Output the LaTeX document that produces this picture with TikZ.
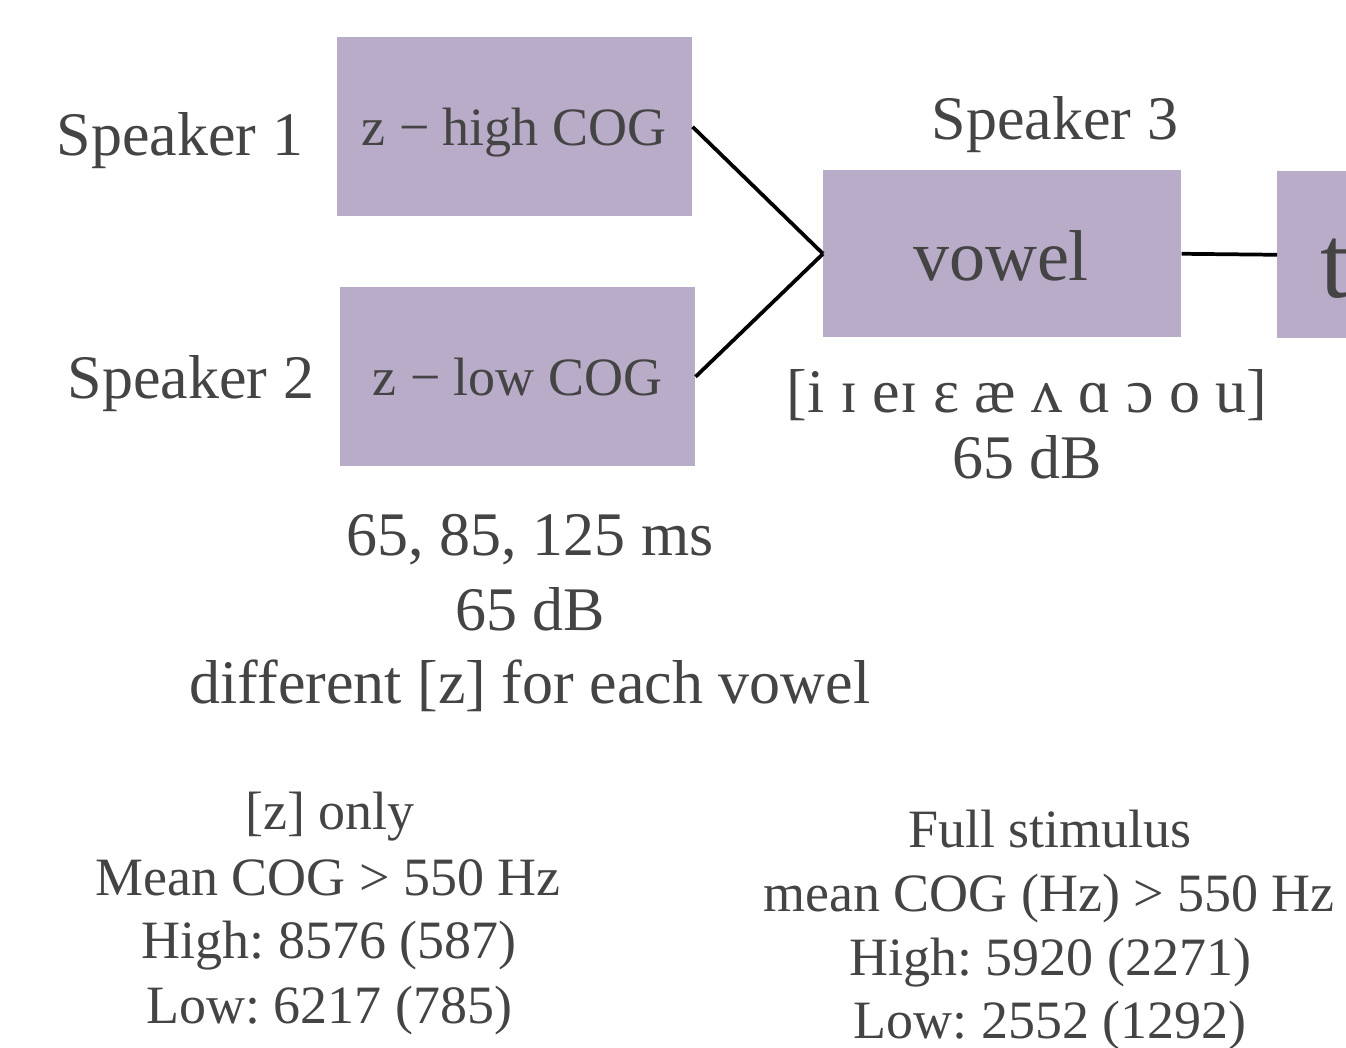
\documentclass[tikz,border=0pt]{standalone}
\usepackage{fontspec}
\setmainfont{Liberation Serif}
\definecolor{boxfill}{HTML}{B9ACC8}
\definecolor{txt}{HTML}{444444}
\frenchspacing
\begin{document}
\begin{tikzpicture}[x=0.75pt,y=-0.75pt,
  lbl/.style={text=txt,inner sep=0pt,anchor=base},
  big/.style={font=\fontsize{46.5pt}{50pt}\selectfont},
  small/.style={font=\fontsize{40.5pt}{44pt}\selectfont},
  boxtxt/.style={font=\fontsize{40.5pt}{44pt}\selectfont},
  pbox/.style={fill=boxfill,draw=none,inner sep=0pt,anchor=north west},
  conn/.style={line width=2.8pt,black}]
\useasboundingbox (0,0) rectangle (1346,1047);
\clip (0,0) rectangle (1346,1047);
% boxes
\node[pbox,minimum width=266.25pt,minimum height=134.25pt] (b1) at (337,37) {};
\node[pbox,minimum width=266.25pt,minimum height=134.25pt] (b2) at (340,287) {};
\node[pbox,minimum width=268.5pt,minimum height=125.25pt] (vow) at (823,170) {};
\node[pbox,minimum width=75pt,minimum height=125.25pt] (tb) at (1277,171) {};
% box texts
\node[lbl,boxtxt] (b1t) at (514,145) {z − high COG};
\node[lbl,boxtxt] (b2t) at (517.5,395) {z − low COG};
\node[lbl,font=\fontsize{54pt}{58pt}\selectfont] (vowt) at (1001,280) {vowel};
\node[lbl,anchor=base west,font=\fontsize{78pt}{80pt}\selectfont] (tt) at (1320,297) {t};
% connectors
\draw[conn] (b1.east) -- (vow.west);
\draw[conn] (b2.east) -- (vow.west);
\draw[conn] (vow.east) -- (tb.west);
% speaker labels
\node[lbl,big] (s1) at (180,155) {Speaker 1};
\node[lbl,big] (s2) at (191,398) {Speaker 2};
\node[lbl,big] (s3) at (1055,139) {Speaker 3};
% vowel info
\node[lbl,big] (ipa) at (1027,412) {[i ɪ eɪ ɛ æ ʌ ɑ ɔ o u]};
\node[lbl,big] (vdb) at (1027,478) {65 dB};
% z info
\node[lbl,big] (zms) at (530,555) {65, 85, 125 ms};
\node[lbl,big] (zdb) at (530,630) {65 dB};
\node[lbl,big] (zdiff) at (530,703) {different [z] for each vowel};
% bottom left
\node[lbl,small] (l1) at (330,829) {[z] only};
\node[lbl,small] (l2) at (328,895) {Mean COG > 550 Hz};
\node[lbl,small] (l3) at (329,958) {High: 8576 (587)};
\node[lbl,small] (l4) at (329,1023) {Low: 6217 (785)};
% bottom right
\node[lbl,small] (r1) at (1050,847) {Full stimulus};
\node[lbl,small] (r2) at (1049,911) {mean COG (Hz) > 550 Hz};
\node[lbl,small] (r3) at (1050,975) {High: 5920 (2271)};
\node[lbl,small] (r4) at (1050,1038) {Low: 2552 (1292)};
\end{tikzpicture}
\end{document}
